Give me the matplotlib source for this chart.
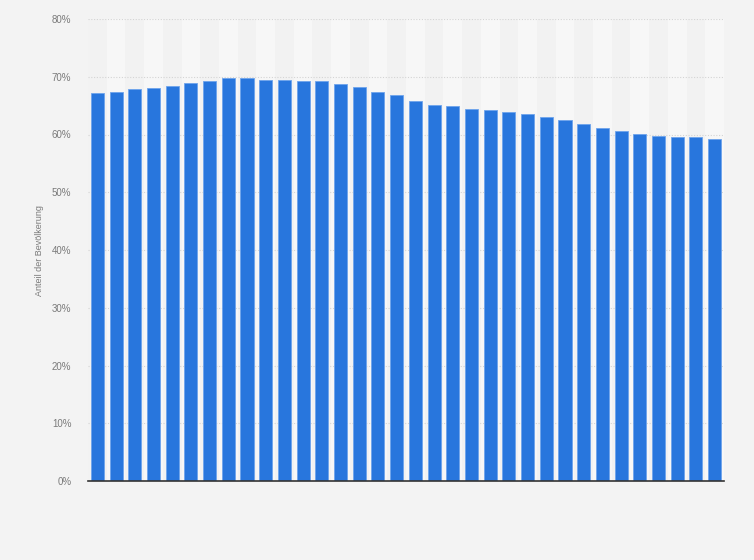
import matplotlib
matplotlib.use("Agg")
import matplotlib.pyplot as plt
import numpy as np

# Anteil der Bevölkerung (%), 34 Jahre, Beschriftungen der x-Achse fehlen im Original
values = [
    67.1, 67.4, 67.8, 68.1, 68.4, 68.9, 69.2, 69.7, 69.7, 69.5,
    69.5, 69.35, 69.2, 68.7, 68.2, 67.4, 66.8, 65.8, 65.1, 64.9,
    64.4, 64.2, 63.9, 63.5, 63.0, 62.5, 61.8, 61.1, 60.6, 60.1,
    59.7, 59.5, 59.5, 59.2,
]
y_ticks = [0, 10, 20, 30, 40, 50, 60, 70, 80]
y_label = "Anteil der Bevölkerung"

plt.rcParams["font.family"] = ["Liberation Sans", "DejaVu Sans"]

fig = plt.figure(figsize=(7.54, 5.60), dpi=100, facecolor="#f3f3f3")
ax = fig.add_axes([88 / 754, 79 / 560, 636 / 754, 462 / 560])
ax.set_facecolor("#f2f2f2")

x = np.arange(len(values))

# abwechselnde Hintergrundstreifen je Kategorie
for i in x:
    if i % 2 == 1:
        ax.axvspan(i - 0.5, i + 0.5, color="#f7f7f7", zorder=0, linewidth=0)

ax.bar(x, values, width=0.7, color="#2876dd", edgecolor="#6ea4ec",
       linewidth=0.6, zorder=3)

ax.set_xlim(-0.5, len(values) - 0.5)
ax.set_ylim(0, 80)
ax.set_yticks(y_ticks)
ax.set_yticklabels([f"{v}%" for v in y_ticks], fontsize=7, color="#7a7a7a")
ax.set_xticks([])
ax.tick_params(axis="y", length=0, pad=12)

ax.grid(axis="y", color="#d4d4d4", linestyle=(0, (1, 1.5)), linewidth=0.8, zorder=1)
ax.set_axisbelow(True)

for side in ("top", "right", "left"):
    ax.spines[side].set_visible(False)
ax.spines["bottom"].set_color("#333333")
ax.spines["bottom"].set_linewidth(1.2)
ax.spines["bottom"].set_zorder(4)

fig.text(40 / 754, 1 - 250 / 560, y_label, rotation=90, fontsize=6.5,
         color="#7a7a7a", ha="center", va="center")

fig.savefig("out.png", dpi=100, facecolor=fig.get_facecolor())
